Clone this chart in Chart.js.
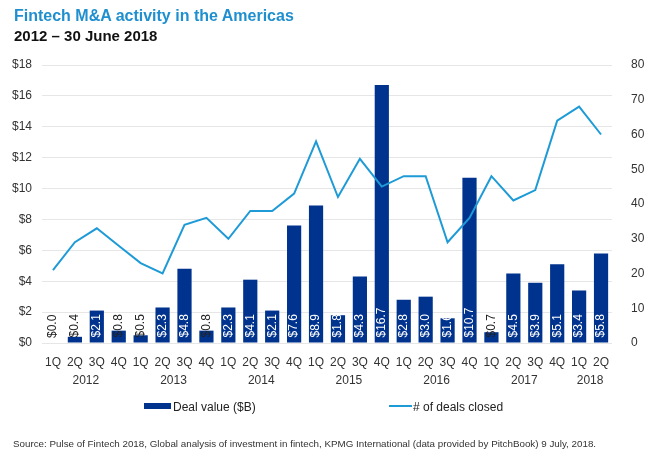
<!DOCTYPE html>
<html>
<head>
<meta charset="utf-8">
<script src="https://cdn.jsdelivr.net/npm/chart.js@4"></script>
<style>
  body { margin: 0; background: #fff; font-family: "Liberation Sans", Arial, sans-serif; }
  #wrap { position: relative; width: 649px; height: 454px; overflow: hidden; }
  #chart { position: absolute; left: 0; top: 0; }
  .title { position: absolute; left: 14px; top: 7px; font-size: 16px; font-weight: bold; color: #1f8fcf; }
  .subtitle { position: absolute; left: 14px; top: 27px; font-size: 15px; font-weight: bold; color: #111; }
  .legend { position: absolute; top: 400px; font-size: 12px; color: #222; white-space: nowrap; }
  .swatch-bar { display: inline-block; width: 27px; height: 6px; background: #00338d; vertical-align: 2px; margin-right: 2px; }
  .swatch-line { display: inline-block; width: 23px; height: 2px; background: #1e9bd7; vertical-align: 4px; margin-right: 1px; }
  .source { position: absolute; left: 13px; top: 438px; font-size: 9.8px; color: #333; white-space: nowrap; }
</style>
</head>
<body>
<div id="wrap">
  <canvas id="chart" width="649" height="454"></canvas>
  <div class="title">Fintech M&amp;A activity in the Americas</div>
  <div class="subtitle">2012 – 30 June 2018</div>
  <div class="legend" style="left:144px"><span class="swatch-bar"></span>Deal value ($B)</div>
  <div class="legend" style="left:389px"><span class="swatch-line"></span># of deals closed</div>
  <div class="source">Source: Pulse of Fintech 2018, Global analysis of investment in fintech, KPMG International (data provided by PitchBook) 9 July, 2018.</div>
</div>
<script>
const quarters = ['1Q','2Q','3Q','4Q','1Q','2Q','3Q','4Q','1Q','2Q','3Q','4Q','1Q','2Q','3Q','4Q',
  '1Q','2Q','3Q','4Q','1Q','2Q','3Q','4Q','1Q','2Q'];
const years = ['2012','2013','2014','2015','2016','2017','2018'];
const quartersPerYear = [4, 4, 4, 4, 4, 4, 2];
const dealValue = [0.0, 0.4, 2.1, 0.8, 0.5, 2.3, 4.8, 0.8, 2.3, 4.1, 2.1, 7.6, 8.9, 1.8, 4.3, 16.7,
  2.8, 3.0, 1.6, 10.7, 0.7, 4.5, 3.9, 5.1, 3.4, 5.8];
const dealsClosed = [21, 29, 33, 28, 23, 20, 34, 36, 30, 38, 38, 43, 58, 42, 53, 45,
  48, 48, 29, 36, 48, 41, 44, 64, 68, 60];
const valueAxisMax = 18;
const countAxisMax = 80;

const fontFamily = '"Liberation Sans", Arial, sans-serif';

// value labels written vertically inside the bars
const barLabels = {
  id: 'barLabels',
  afterDatasetsDraw(chart) {
    const ctx = chart.ctx;
    const meta = chart.getDatasetMeta(1);
    ctx.save();
    ctx.font = '12px ' + fontFamily;
    ctx.textAlign = 'left';
    ctx.textBaseline = 'middle';
    meta.data.forEach((bar, i) => {
      const v = dealValue[i];
      ctx.save();
      ctx.translate(bar.x, bar.base - 5);
      ctx.rotate(-Math.PI / 2);
      ctx.fillStyle = v >= 1.5 ? '#ffffff' : '#222222';
      ctx.fillText('$' + v.toFixed(1), 0, 0);
      ctx.restore();
    });
    ctx.restore();
  }
};

// year labels centred under their quarters
const yearLabels = {
  id: 'yearLabels',
  afterDraw(chart) {
    const ctx = chart.ctx;
    const x = chart.scales.x;
    ctx.save();
    ctx.font = '12px ' + fontFamily;
    ctx.fillStyle = '#333';
    ctx.textAlign = 'center';
    ctx.textBaseline = 'middle';
    let start = 0;
    years.forEach((yr, i) => {
      const end = start + quartersPerYear[i] - 1;
      const cx = (x.getPixelForValue(start) + x.getPixelForValue(end)) / 2;
      ctx.fillText(yr, cx, 381);
      start = end + 1;
    });
    ctx.restore();
  }
};

new Chart(document.getElementById('chart').getContext('2d'), {
  type: 'bar',
  data: {
    labels: quarters,
    datasets: [{
      type: 'line',
      label: '# of deals closed',
      data: dealsClosed,
      yAxisID: 'y1',
      borderColor: '#1e9bd7',
      borderWidth: 2,
      pointRadius: 0,
      tension: 0,
      order: 0
    }, {
      type: 'bar',
      label: 'Deal value ($B)',
      data: dealValue,
      yAxisID: 'y',
      backgroundColor: '#00338d',
      barPercentage: 0.9,
      categoryPercentage: 0.72,
      order: 1
    }]
  },
  options: {
    responsive: false,
    animation: false,
    layout: { padding: { top: 65, left: 0, right: 0, bottom: 66 } },
    plugins: {
      legend: { display: false },
      tooltip: { enabled: false }
    },
    scales: {
      x: {
        grid: { display: false },
        border: { display: false },
        ticks: { color: '#333', font: { family: fontFamily, size: 12 }, maxRotation: 0, autoSkip: false, padding: 4 },
        afterFit(s) { s.height = 45; }
      },
      y: {
        position: 'left',
        min: 0,
        max: valueAxisMax,
        border: { display: false },
        grid: { color: '#e6e6e6', drawTicks: false },
        ticks: {
          stepSize: 2,
          color: '#333',
          padding: 10,
          font: { family: fontFamily, size: 12 },
          callback: v => '$' + v
        },
        afterFit(s) { s.width = 42; }
      },
      y1: {
        position: 'right',
        min: 0,
        max: countAxisMax,
        border: { display: false },
        grid: { display: false },
        ticks: {
          stepSize: 10,
          color: '#333',
          padding: 11,
          font: { family: fontFamily, size: 12 }
        },
        afterFit(s) { s.width = 37; }
      }
    }
  },
  plugins: [barLabels, yearLabels]
});
</script>
</body>
</html>
